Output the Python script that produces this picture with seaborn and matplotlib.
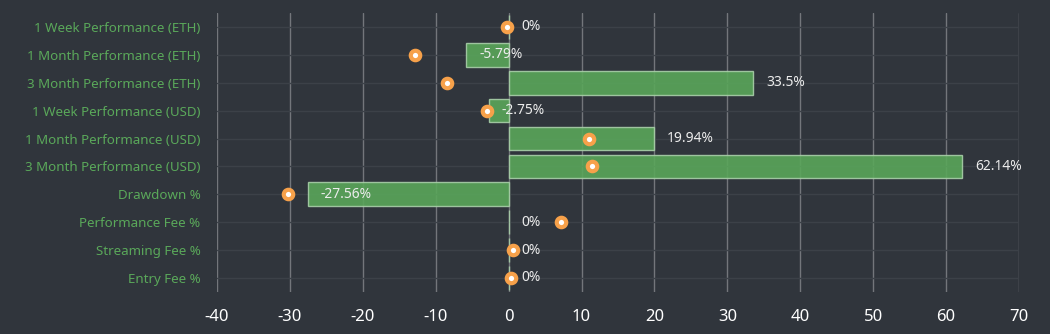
import matplotlib
matplotlib.use("Agg")
import matplotlib.pyplot as plt
import seaborn as sns
import pandas as pd
import numpy as np

categories = [
    "1 Week Performance (ETH)",
    "1 Month Performance (ETH)",
    "3 Month Performance (ETH)",
    "1 Week Performance (USD)",
    "1 Month Performance (USD)",
    "3 Month Performance (USD)",
    "Drawdown %",
    "Performance Fee %",
    "Streaming Fee %",
    "Entry Fee %",
]
bar_values = [0, -5.79, 33.5, -2.75, 19.94, 62.14, -27.56, 0, 0, 0]
bar_labels = ["0%", "-5.79%", "33.5%", "-2.75%", "19.94%", "62.14%", "-27.56%", "0%", "0%", "0%"]
dot_values = [-0.2, -12.8, -8.4, -3.0, 11.0, 11.4, -30.2, 7.2, 0.6, 0.3]
x_ticks = [-40, -30, -20, -10, 0, 10, 20, 30, 40, 50, 60, 70]

BG = "#30353c"
sns.set_theme(style="dark")
plt.rcParams["font.family"] = ["Noto Sans", "DejaVu Sans"]

df = pd.DataFrame({"cat": categories, "bar": bar_values, "dot": dot_values})

fig = plt.figure(figsize=(10.5, 3.34), dpi=100, facecolor=BG)
ax = fig.add_axes([0.2067, 0.126, 0.7638, 0.835])
ax.set_facecolor(BG)

sns.barplot(data=df, x="bar", y="cat", orient="h", ax=ax, color="#5aa65a",
            saturation=1, width=0.85, edgecolor="#a9cfa9", linewidth=1.0,
            alpha=0.9, zorder=3)
sns.stripplot(data=df, x="dot", y="cat", orient="h", ax=ax, jitter=False,
              size=6.8, color="white", edgecolor="#f7a14a", linewidth=3.0, zorder=5)

for i, (v, lab) in enumerate(zip(bar_values, bar_labels)):
    ax.annotate(lab, xy=(v, i), xytext=(9.5, 0), textcoords="offset points",
                ha="left", va="center", color="#ececec", fontsize=10, zorder=6)

ax.set_xlim(-40, 70)
ax.set_ylim(9.5, -0.5)
ax.set_xticks(x_ticks)
ax.set_xticklabels([str(t) for t in x_ticks])
ax.grid(True, axis="x", color="#73767b", linewidth=1.0, zorder=0)
ax.grid(True, axis="y", color="#3c4148", linewidth=1.0, zorder=0)
ax.set_axisbelow(True)
for s in ax.spines.values():
    s.set_visible(False)
ax.tick_params(axis="x", colors="#ffffff", labelsize=12, length=0, pad=12)
ax.tick_params(axis="y", colors="#5aa85a", labelsize=9.6, length=0, pad=12)
for t in ax.get_yticklabels():
    t.set_color("#5aa85a")
ax.set_xlabel("")
ax.set_ylabel("")

fig.savefig("out.png", dpi=100, facecolor=BG)
